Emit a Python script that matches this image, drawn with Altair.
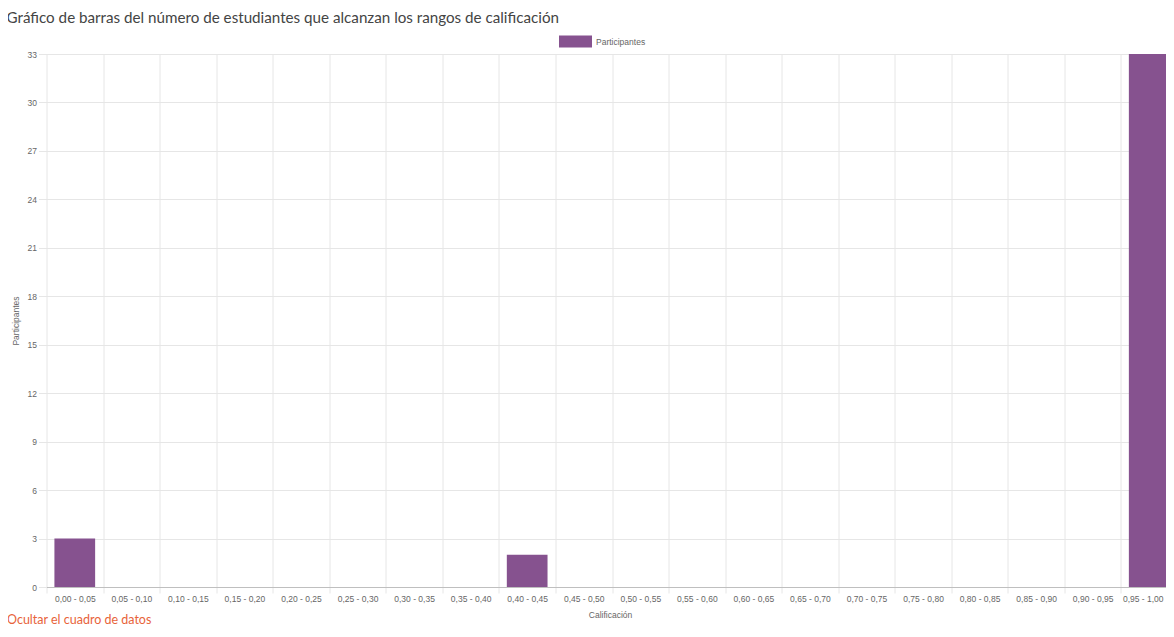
import altair as alt
import pandas as pd

title_text = "Gráfico de barras del número de estudiantes que alcanzan los rangos de calificación"
series_name = "Participantes"
categories = [
    "0,00 - 0,05", "0,05 - 0,10", "0,10 - 0,15", "0,15 - 0,20", "0,20 - 0,25",
    "0,25 - 0,30", "0,30 - 0,35", "0,35 - 0,40", "0,40 - 0,45", "0,45 - 0,50",
    "0,50 - 0,55", "0,55 - 0,60", "0,60 - 0,65", "0,65 - 0,70", "0,70 - 0,75",
    "0,75 - 0,80", "0,80 - 0,85", "0,85 - 0,90", "0,90 - 0,95", "0,95 - 1,00",
]
values = [3, 0, 0, 0, 0, 0, 0, 0, 2, 0, 0, 0, 0, 0, 0, 0, 0, 0, 0, 33]
y_ticks = [0, 3, 6, 9, 12, 15, 18, 21, 24, 27, 30, 33]
x_title = "Calificación"
y_title = "Participantes"
link_text = "Ocultar el cuadro de datos"

df = pd.DataFrame({"rango": categories, "n": values, "serie": [series_name] * len(categories)})

FONT = "Liberation Sans"
GRID = "#e6e6e6"
PURPLE = "#86528f"

W, H = 1119, 533
X_RANGE = 1131

last_label_test = "datum.value === '" + categories[-1] + "'"

bars = alt.Chart(df).mark_bar(width=alt.RelativeBandSize(0.72)).encode(
    x=alt.X(
        "rango:N",
        sort=categories,
        scale=alt.Scale(paddingInner=0, paddingOuter=0, range=[0, X_RANGE]),
        axis=alt.Axis(
            title=x_title,
            labelAngle=0,
            tickBand="extent",
            grid=True,
            gridColor=GRID,
            tickColor=GRID,
            tickSize=6,
            labelPadding=1,
            labelOffset={"condition": {"test": last_label_test, "value": -6.5}, "value": 0},
            domainColor="#bfbfbf",
            labelFont=FONT,
            labelFontSize=8.5,
            labelColor="#666666",
            titleFont=FONT,
            titleFontSize=8.5,
            titleFontWeight="normal",
            titleColor="#666666",
            titlePadding=8,
            titleX=1127 / 2,
        ),
    ),
    y=alt.Y(
        "n:Q",
        scale=alt.Scale(domain=[0, 33], nice=False),
        axis=alt.Axis(
            title=y_title,
            values=y_ticks,
            grid=True,
            gridColor=GRID,
            tickColor=GRID,
            tickSize=8,
            labelPadding=2,
            domain=False,
            labelFont=FONT,
            labelFontSize=8.5,
            labelColor="#666666",
            titleFont=FONT,
            titleFontSize=8.5,
            titleFontWeight="normal",
            titleColor="#666666",
            titlePadding=7,
        ),
    ),
    color=alt.Color(
        "serie:N",
        scale=alt.Scale(domain=[series_name], range=[PURPLE]),
        legend=alt.Legend(
            title=None,
            orient="none",
            legendX=523,
            legendY=-18.5,
            padding=0,
            symbolType="M-2.75,-1H2.75V1H-2.75Z",
            symbolSize=144,
            symbolStrokeWidth=0,
            symbolOpacity=1,
            labelOffset=14.5,
            labelFont=FONT,
            labelFontSize=8.5,
            labelColor="#666666",
        ),
    ),
)

link = alt.Chart(pd.DataFrame({"t": [link_text]})).mark_text(
    align="left", baseline="alphabetic", font="Lato", fontSize=12.5, color="#e8633a"
).encode(text="t:N", x=alt.value(-39.5), y=alt.value(570))

chart = alt.layer(bars, link).properties(
    width=W,
    height=H,
    autosize=alt.AutoSizeParams(type="none"),
    padding={"left": 38.5, "top": 46, "right": 0, "bottom": 39},
    title=alt.TitleParams(
        title_text,
        anchor="start",
        frame="group",
        font="Lato",
        fontSize=15.2,
        fontWeight="normal",
        color="#444444",
        dx=-40,
        offset=9.5,
    ),
).configure_view(stroke=None)

chart.save("out.html", embed_options={"renderer": "svg", "actions": False})
